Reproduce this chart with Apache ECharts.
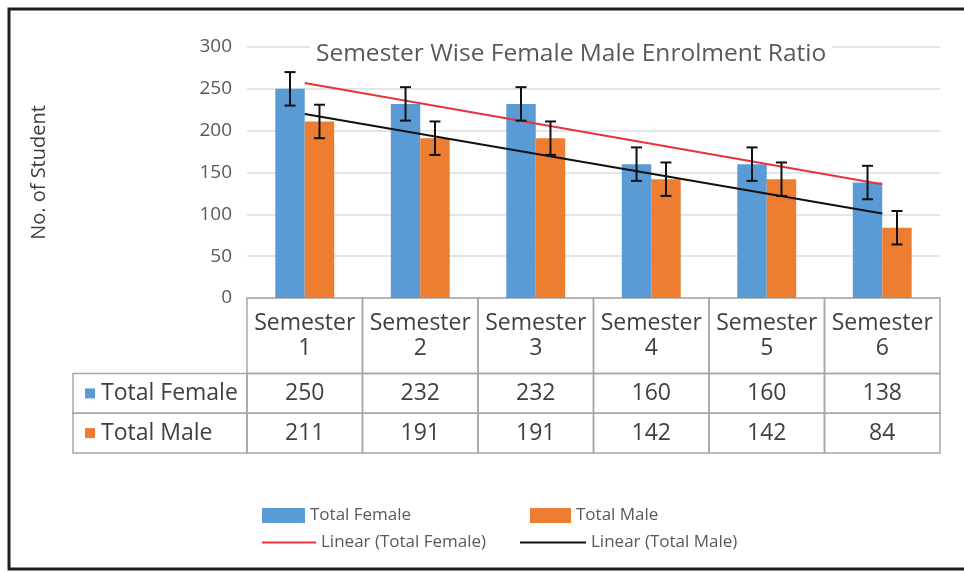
<!DOCTYPE html>
<html>
<head>
<meta charset="utf-8">
<script src="https://cdn.jsdelivr.net/npm/echarts@6/dist/echarts.min.js"></script>
<style>
  html, body { margin: 0; padding: 0; background: #fff; }
  #main { width: 964px; height: 572px; }
</style>
</head>
<body>
<div id="main"></div>
<script>
// data
const semesters = ['Semester 1', 'Semester 2', 'Semester 3', 'Semester 4', 'Semester 5', 'Semester 6'];
const totalFemale = [250, 232, 232, 160, 160, 138];
const totalMale = [211, 191, 191, 142, 142, 84];
const femaleErr = [20, 20, 20, 20, 20, 20];
const maleErr = [20, 20, 20, 20, 20, 20];
// trend line ends (at Semester 1 and Semester 6)
const femaleTrend = [257, 136];
const maleTrend = [220, 101];
const rowNames = ['Total Female', 'Total Male'];

const FONT = 'Open Sans';
const BLUE = '#5b9bd5';
const ORANGE = '#ed7d31';
const RED = '#e8333b';
const TEXT = '#595959';

// table rows: header, female, male (edges on the table's y axis)
const rowEdges = [0, 1.9, 2.9, 3.9];
const labelColWidth = 174;

const cells = [];
semesters.forEach(function (s, i) {
  cells.push({ col: i, row: 0, text: s.replace(' ', '\n') });
  cells.push({ col: i, row: 1, text: String(totalFemale[i]) });
  cells.push({ col: i, row: 2, text: String(totalMale[i]) });
});
cells.push({ col: 0, row: 1, text: rowNames[0], label: BLUE });
cells.push({ col: 0, row: 2, text: rowNames[1], label: ORANGE });

function renderCell(params, api) {
  const c = cells[params.dataIndex];
  const band = api.size([1, 0])[0];
  const y0 = api.coord([0, rowEdges[c.row]])[1];
  const y1 = api.coord([0, rowEdges[c.row + 1]])[1];
  let x0, w;
  if (c.label) {
    x0 = params.coordSys.x - labelColWidth;
    w = labelColWidth;
  } else {
    x0 = api.coord([c.col, 0])[0] - band / 2;
    w = band;
  }
  const children = [{
    type: 'rect',
    shape: { x: x0, y: y0, width: w, height: y1 - y0 },
    style: { fill: 'none', stroke: '#a6a6a6', lineWidth: 1.5 }
  }];
  if (c.label) {
    children.push({
      type: 'rect',
      shape: { x: x0 + 12, y: (y0 + y1) / 2 - 5, width: 10, height: 10 },
      style: { fill: c.label }
    });
    children.push({
      type: 'text',
      style: {
        text: c.text, x: x0 + 28, y: (y0 + y1) / 2,
        align: 'left', verticalAlign: 'middle',
        fontFamily: FONT, fontSize: 23, fill: '#404040'
      }
    });
  } else {
    children.push({
      type: 'text',
      style: {
        text: c.text, x: x0 + w / 2, y: (y0 + y1) / 2,
        align: 'center', verticalAlign: 'middle', lineHeight: 25,
        fontFamily: FONT, fontSize: 23, fill: '#404040'
      }
    });
  }
  return { type: 'group', children: children };
}

// error bars, shifted onto the two bars of each category
function errorBars(side) {
  return function (params, api) {
    const i = api.value(0);
    const band = api.size([1, 0])[0];
    const x = api.coord([i, 0])[0] + side * band * 0.1275;
    const top = api.coord([i, api.value(2)])[1];
    const bot = api.coord([i, api.value(1)])[1];
    const cap = 5.5;
    const st = { stroke: '#111', lineWidth: 2 };
    return {
      type: 'group',
      children: [
        { type: 'line', shape: { x1: x, y1: top, x2: x, y2: bot }, style: st },
        { type: 'line', shape: { x1: x - cap, y1: top, x2: x + cap, y2: top }, style: st },
        { type: 'line', shape: { x1: x - cap, y1: bot, x2: x + cap, y2: bot }, style: st }
      ]
    };
  };
}

const myChart = echarts.init(document.getElementById('main'));

const legendText = { fontSize: 17, color: TEXT, fontFamily: FONT };

const option = {
  animation: false,
  backgroundColor: '#fff',
  textStyle: { fontFamily: FONT },
  title: {
    text: 'Semester Wise Female Male Enrolment Ratio',
    left: 310,
    top: 40,
    padding: [2, 6],
    backgroundColor: '#fff',
    textStyle: { fontFamily: FONT, fontSize: 24.5, fontWeight: 'normal', color: TEXT }
  },
  legend: [
    { data: ['Total Female'], left: 257, top: 502, itemWidth: 43, itemHeight: 15, icon: 'rect',
      textStyle: legendText },
    { data: ['Total Male'], left: 525, top: 502, itemWidth: 41, itemHeight: 15, icon: 'rect',
      textStyle: legendText },
    { data: ['Linear (Total Female)'], left: 257, top: 529, itemWidth: 54, itemHeight: 2, icon: 'rect',
      textStyle: legendText },
    { data: ['Linear (Total Male)'], left: 515, top: 529, itemWidth: 66, itemHeight: 2, icon: 'rect',
      textStyle: legendText }
  ],
  grid: [
    { left: 247, right: 24, top: 47, height: 251 },
    { left: 247, right: 24, top: 298, height: 155 }
  ],
  xAxis: [
    { type: 'category', gridIndex: 0, data: semesters,
      axisLine: { show: false }, axisTick: { show: false }, axisLabel: { show: false } },
    { type: 'category', gridIndex: 1, data: semesters, show: false }
  ],
  yAxis: [
    { type: 'value', gridIndex: 0, min: 0, max: 300, interval: 50,
      name: 'No. of Student', nameLocation: 'middle', nameGap: 198, nameRotate: 90,
      nameTextStyle: { fontSize: 20, color: '#404040', fontFamily: FONT },
      axisLine: { show: false }, axisTick: { show: false },
      axisLabel: { fontSize: 19, color: TEXT, margin: 15, fontFamily: FONT },
      splitLine: { lineStyle: { color: '#dcdcdc', width: 1.5 } } },
    { type: 'value', gridIndex: 1, min: 0, max: 3.9, inverse: true, show: false }
  ],
  series: [
    { name: 'Total Female', type: 'bar', xAxisIndex: 0, yAxisIndex: 0,
      data: totalFemale, itemStyle: { color: BLUE },
      barGap: '0%', barCategoryGap: '49%' },
    { name: 'Total Male', type: 'bar', xAxisIndex: 0, yAxisIndex: 0,
      data: totalMale, itemStyle: { color: ORANGE },
      barGap: '0%', barCategoryGap: '49%' },
    { name: 'Linear (Total Female)', type: 'line', symbol: 'none', z: 3,
      data: [[semesters[0], femaleTrend[0]], [semesters[5], femaleTrend[1]]],
      itemStyle: { color: RED }, lineStyle: { color: RED, width: 2 } },
    { name: 'Linear (Total Male)', type: 'line', symbol: 'none', z: 3,
      data: [[semesters[0], maleTrend[0]], [semesters[5], maleTrend[1]]],
      itemStyle: { color: '#111' }, lineStyle: { color: '#111', width: 2 } },
    { type: 'custom', name: 'errFemale', z: 4, renderItem: errorBars(-1),
      data: totalFemale.map(function (v, i) { return [i, v - femaleErr[i], v + femaleErr[i]]; }) },
    { type: 'custom', name: 'errMale', z: 4, renderItem: errorBars(1),
      data: totalMale.map(function (v, i) { return [i, v - maleErr[i], v + maleErr[i]]; }) },
    { type: 'custom', name: 'table', xAxisIndex: 1, yAxisIndex: 1, renderItem: renderCell,
      data: cells.map(function (c) { return [c.col, c.row]; }) }
  ],
  graphic: [{
    type: 'rect', silent: true,
    shape: { x: 9, y: 9, width: 980, height: 560 },
    style: { fill: 'none', stroke: '#1e1e1e', lineWidth: 3 }
  }]
};

myChart.setOption(option);
</script>
</body>
</html>
